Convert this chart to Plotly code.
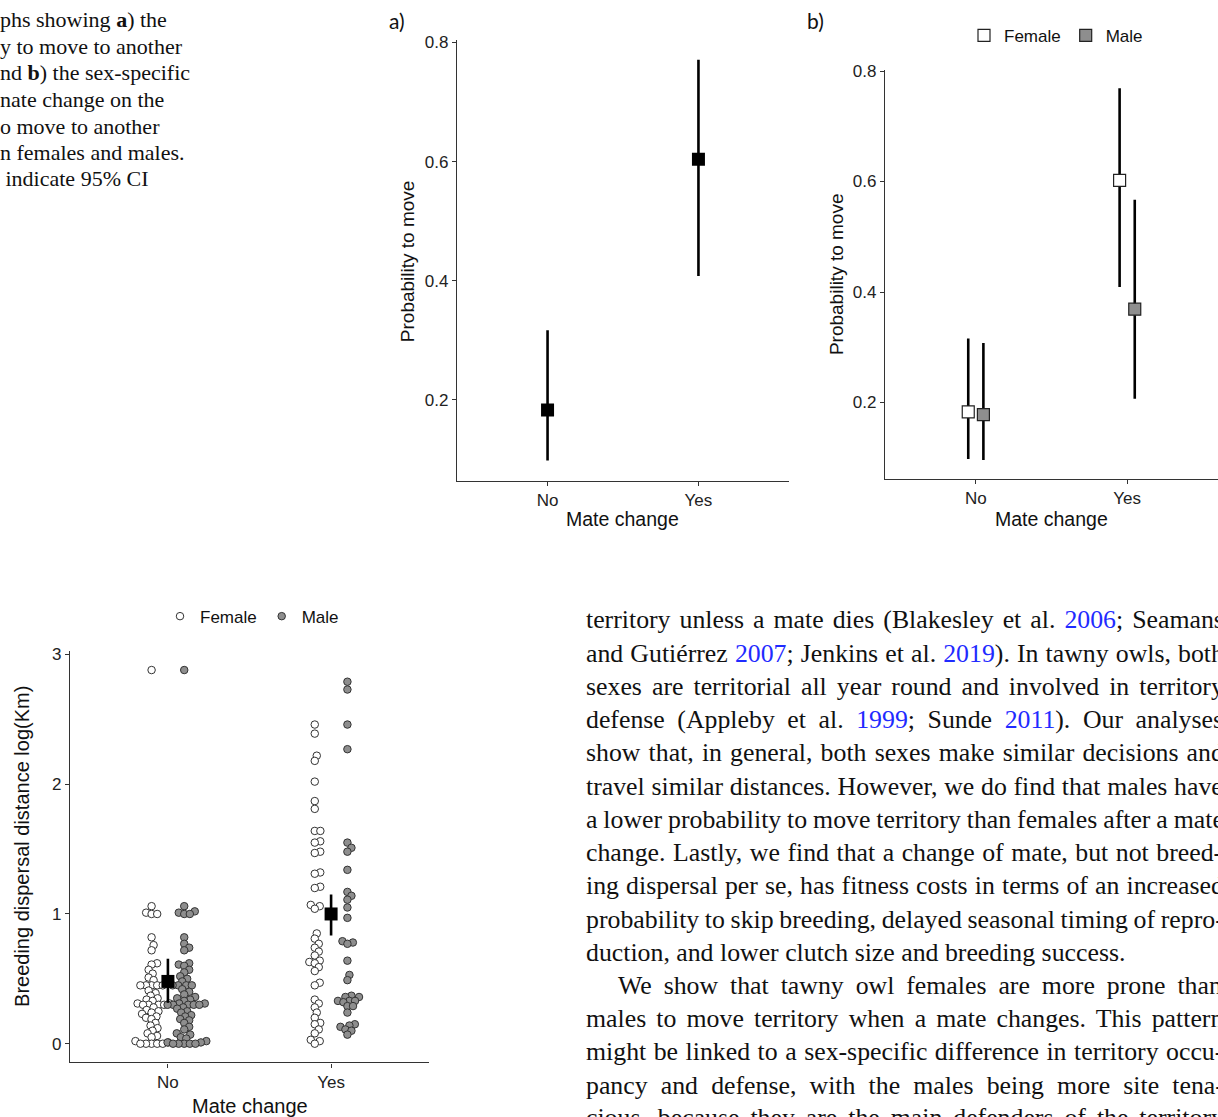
import numpy as np
import plotly.graph_objects as go

W, H = 1218, 1117

# ---------------- data ----------------
categories = ["No", "Yes"]

# panel a: probability to move (mean, 95% CI)
a_mean = [0.183, 0.604]
a_lo = [0.098, 0.408]
a_hi = [0.317, 0.771]

# panel b: sex-specific probability to move
b_fem_mean = [0.183, 0.602]
b_fem_lo = [0.098, 0.409]
b_fem_hi = [0.316, 0.769]
b_male_mean = [0.178, 0.369]
b_male_lo = [0.096, 0.207]
b_male_hi = [0.308, 0.567]

# panel c: breeding dispersal distance log(Km)
c_mean = [0.48, 1.00]
c_lo = [0.315, 0.834]
c_hi = [0.655, 1.15]

fem_no = [2.88,
          1.06, 1.01, 1.00, 1.00,
          0.82, 0.76, 0.72,
          0.62, 0.61, 0.57, 0.54, 0.51, 0.49,
          0.45, 0.45, 0.45, 0.45, 0.45,
          0.41, 0.39, 0.37, 0.35, 0.34, 0.33,
          0.31, 0.31, 0.30, 0.30, 0.30, 0.30,
          0.28, 0.26, 0.25, 0.24, 0.23, 0.21, 0.20, 0.19,
          0.16, 0.14, 0.12, 0.10, 0.08, 0.06, 0.05,
          0.02, 0.01, 0.00, 0.00, 0.00, 0.00, 0.00]
male_no = [2.88,
           1.06, 1.02, 1.01, 1.00, 1.00,
           0.82, 0.77, 0.74, 0.72,
           0.62, 0.61, 0.60, 0.57, 0.55, 0.52, 0.50, 0.48,
           0.45, 0.45, 0.45, 0.45,
           0.42, 0.40, 0.38, 0.36, 0.35, 0.34, 0.33,
           0.31, 0.31, 0.30, 0.30, 0.30, 0.30, 0.30,
           0.28, 0.27, 0.25, 0.24, 0.22, 0.21, 0.19, 0.18,
           0.16, 0.13, 0.11, 0.08, 0.07, 0.05, 0.04,
           0.02, 0.01, 0.01, 0.00, 0.00, 0.00, 0.00, 0.00]
fem_yes = [2.46, 2.39, 2.22, 2.18, 2.02, 1.87, 1.81, 1.64, 1.64, 1.56, 1.55,
           1.48, 1.47, 1.32, 1.31, 1.21, 1.20, 1.07, 1.06, 1.04, 0.85, 0.81,
           0.77, 0.74, 0.71, 0.68, 0.64, 0.63, 0.62, 0.59, 0.56, 0.47, 0.45,
           0.34, 0.31, 0.28, 0.24, 0.20, 0.16, 0.15, 0.11, 0.08, 0.03, 0.02, 0.00]
male_yes = [2.79, 2.73, 2.46, 2.27, 1.55, 1.51, 1.48, 1.34, 1.17, 1.14, 1.11,
            1.05, 0.97, 0.79, 0.78, 0.77, 0.64, 0.53, 0.49, 0.37, 0.36, 0.36,
            0.33, 0.33, 0.33, 0.32, 0.29, 0.29, 0.24, 0.15, 0.14, 0.13, 0.11,
            0.10, 0.07]

caption_lines = ["phs showing <b>a</b>) the", "y to move to another",
                 "nd <b>b</b>) the sex-specific", "nate change on the",
                 "o move to another", "n females and males.", " indicate 95% CI"]

# body text lines as segments (text, is_citation_link)
body_lines = [
    [("territory unless a mate dies (Blakesley et al. ", 0), ("2006", 1), ("; Seamans", 0)],
    [("and Gutiérrez ", 0), ("2007", 1), ("; Jenkins et al. ", 0), ("2019", 1), ("). In tawny owls, both", 0)],
    [("sexes are territorial all year round and involved in territory", 0)],
    [("defense (Appleby et al. ", 0), ("1999", 1), ("; Sunde ", 0), ("2011", 1), ("). Our analyses", 0)],
    [("show that, in general, both sexes make similar decisions and", 0)],
    [("travel similar distances. However, we do find that males have", 0)],
    [("a lower probability to move territory than females after a mate", 0)],
    [("change. Lastly, we find that a change of mate, but not breed-", 0)],
    [("ing dispersal per se, has fitness costs in terms of an increased", 0)],
    [("probability to skip breeding, delayed seasonal timing of repro-", 0)],
    [("duction, and lower clutch size and breeding success.", 0)],
    [("We show that tawny owl females are more prone than", 0)],
    [("males to move territory when a mate changes. This pattern", 0)],
    [("might be linked to a sex-specific difference in territory occu-", 0)],
    [("pancy and defense, with the males being more site tena-", 0)],
    [("cious, because they are the main defenders of the territory", 0)],
]
justified = [True] * 10 + [False] + [True] * 5

# Times / Liberation Serif advance widths (per 1000 em)
_TW = dict(zip(" !\"#$%&'()*+,-./:;<=>?@", [250, 333, 408, 500, 500, 833, 778, 333, 333, 333,
                                             500, 564, 250, 333, 250, 278, 278, 278, 564, 564,
                                             564, 444, 921]))
_TW.update({d: 500 for d in "0123456789"})
_TW.update(dict(zip("ABCDEFGHIJKLMNOPQRSTUVWXYZ",
                    [722, 667, 667, 722, 611, 556, 722, 722, 333, 389, 722, 611, 889, 722,
                     722, 556, 722, 667, 556, 611, 722, 722, 944, 722, 722, 611])))
_TW.update(dict(zip("abcdefghijklmnopqrstuvwxyz",
                    [444, 500, 444, 500, 444, 333, 500, 500, 278, 278, 500, 278, 778, 500,
                     500, 500, 500, 333, 389, 278, 500, 500, 722, 500, 500, 444])))
_TW["é"] = 444


def text_width(s, size):
    return sum(_TW.get(c, 500) for c in s) * size / 1000.0


# ---------------- helpers ----------------
def px(x):
    return x / W


def py(y):
    return 1 - y / H


def padded(lo, hi, f=0.05):
    r = hi - lo
    return [lo - f * r, hi + f * r]


def swarm(vals, d, ppu_y, ppu_x):
    vals = np.asarray(vals, float)
    order = np.argsort(vals, kind="stable")
    placed = []
    off = np.zeros(len(vals))
    for i in order:
        y = vals[i] * ppu_y
        cands = [0.0]
        for yy, xx in placed:
            dy = abs(y - yy)
            if dy < d:
                dx = np.sqrt(d * d - dy * dy)
                cands += [xx + dx, xx - dx]
        cands.sort(key=abs)
        chosen = cands[-1]
        for c in cands:
            if all((c - xx) ** 2 + (y - yy) ** 2 >= d * d - 1e-6 for yy, xx in placed):
                chosen = c
                break
        placed.append((y, chosen))
        off[i] = chosen / ppu_x
    return off


xpos = np.array([1.0, 2.0])
AX = "#333333"
TICKC = "#222222"
SANS = "Liberation Sans"
SERIF = "Liberation Serif"

fig = go.Figure()

# panel a
fig.add_trace(go.Scatter(
    x=xpos, y=a_mean, mode="markers", xaxis="x", yaxis="y", showlegend=False,
    marker=dict(symbol="square", size=13, color="black"),
    error_y=dict(type="data", symmetric=False,
                 array=np.array(a_hi) - np.array(a_mean),
                 arrayminus=np.array(a_mean) - np.array(a_lo),
                 width=0, thickness=2.6, color="black")))

# panel b
for name, mean, lo, hi, fill, dx in [
        ("Female", b_fem_mean, b_fem_lo, b_fem_hi, "white", -0.05),
        ("Male", b_male_mean, b_male_lo, b_male_hi, "#8e8e8e", 0.05)]:
    fig.add_trace(go.Scatter(
        x=xpos + dx, y=mean, mode="markers", name=name, xaxis="x2", yaxis="y2",
        legend="legend",
        marker=dict(symbol="square", size=12, color=fill, line=dict(color="#222", width=1.2)),
        error_y=dict(type="data", symmetric=False,
                     array=np.array(hi) - np.array(mean),
                     arrayminus=np.array(mean) - np.array(lo),
                     width=0, thickness=2.6, color="black")))

# panel c
c_range = padded(0.0, max(max(fem_no), max(male_no), max(fem_yes), max(male_yes)))
c_top, c_bot = 648, 1062
c_ppu_y = (c_bot - c_top) / (c_range[1] - c_range[0])
c_ppu_x = (429 - 70) / 2.2
D = 5.6
for name, groups, fill in [("Female", [fem_no, fem_yes], "white"),
                           ("Male", [male_no, male_yes], "#8e8e8e")]:
    xs, ys = [], []
    dodge = -0.1 if name == "Female" else 0.1
    for k, g in enumerate(groups):
        off = swarm(g, D, c_ppu_y, c_ppu_x)
        xs += list(xpos[k] + dodge + off)
        ys += list(g)
    fig.add_trace(go.Scatter(
        x=xs, y=ys, mode="markers", name=name, xaxis="x3", yaxis="y3",
        legend="legend2",
        marker=dict(symbol="circle", size=7.5, color=fill, line=dict(color="#333", width=1))))

fig.add_trace(go.Scatter(
    x=xpos, y=c_mean, mode="markers", xaxis="x3", yaxis="y3", showlegend=False,
    marker=dict(symbol="square", size=13, color="black"),
    error_y=dict(type="data", symmetric=False,
                 array=np.array(c_hi) - np.array(c_mean),
                 arrayminus=np.array(c_mean) - np.array(c_lo),
                 width=0, thickness=2.6, color="black")))

axis_common = dict(showline=True, linecolor=AX, linewidth=1.4, ticks="outside",
                   ticklen=4, tickwidth=1.3, tickcolor=AX, showgrid=False,
                   zeroline=False, fixedrange=True,
                   tickfont=dict(family=SANS, size=17, color=TICKC))


def xax(dom, anchor):
    return dict(axis_common, domain=dom, anchor=anchor, range=[0.4, 2.6],
                tickvals=list(xpos), ticktext=categories)


def yax(dom, anchor, rng, tv, fmt):
    return dict(axis_common, domain=dom, anchor=anchor, range=rng,
                tickvals=tv, ticktext=[fmt % v for v in tv])


a_range = padded(min(a_lo), max(a_hi))
b_range = padded(min(b_fem_lo + b_male_lo), max(b_fem_hi + b_male_hi))

annotations = []


def note(text, x, y, size, family=SANS, angle=0, xanchor="center", color="#111"):
    annotations.append(dict(text=text, x=px(x), y=py(y), xref="paper", yref="paper",
                            showarrow=False, xanchor=xanchor, yanchor="middle",
                            textangle=angle,
                            font=dict(family=family, size=size, color=color)))


note("a)", 397, 13, 21, family="Lato")
note("b)", 815, 13, 21, family="Lato")
note("Probability to move", 407, 255, 19, angle=-90)
note("Mate change", 622, 515, 19.5)
note("Probability to move", 836, 268, 19, angle=-90)
note("Mate change", 1051, 515, 19.5)
note("Breeding dispersal distance log(Km)", 22, 845, 20, angle=-90)
note("Mate change", 250, 1106, 20)

cap_y = [12, 39, 65, 92, 119, 146, 172]
for t, yy in zip(caption_lines, cap_y):
    note(t, -2, yy, 22, family=SERIF, xanchor="left")

BODY_SIZE = 25.8
RIGHT = 1222
body_y = [616, 650, 683, 717, 750, 784, 817, 851, 884, 918, 951, 985, 1018, 1051, 1085, 1118]
for i, (segs, yy) in enumerate(zip(body_lines, body_y)):
    x0 = 616 if i == 11 else 584
    plain = "".join(s for s, _ in segs)
    ws = 0.0
    if justified[i]:
        nsp = plain.count(" ")
        ws = (RIGHT - x0 - text_width(plain, BODY_SIZE)) / max(nsp, 1)
    parts = []
    for s, link in segs:
        style = "word-spacing:%.2fpx" % ws
        if link:
            style += ";color:#1f2bff"
        parts.append("<span style='%s'>%s</span>" % (style, s))
    note("".join(parts), x0, yy, BODY_SIZE, family=SERIF, xanchor="left", color="#111")

fig.update_layout(
    width=W, height=H, margin=dict(l=0, r=0, t=0, b=0),
    paper_bgcolor="white", plot_bgcolor="white",
    xaxis=xax([px(457), px(789)], "y"),
    yaxis=yax([py(476), py(32)], "x", a_range, [0.2, 0.4, 0.6, 0.8], "%.1f"),
    xaxis2=xax([px(885), 1.0], "y2"),
    yaxis2=yax([py(474), py(62)], "x2", b_range, [0.2, 0.4, 0.6, 0.8], "%.1f"),
    xaxis3=xax([px(70), px(429)], "y3"),
    yaxis3=yax([py(c_bot), py(c_top)], "x3", c_range, [0, 1, 2, 3], "%d"),
    legend=dict(orientation="h", x=px(964), y=py(28), xanchor="left", yanchor="middle",
                font=dict(family=SANS, size=17, color="#111"), bgcolor="rgba(0,0,0,0)",
                itemclick=False, itemdoubleclick=False),
    legend2=dict(orientation="h", x=px(160), y=py(613), xanchor="left", yanchor="middle",
                 font=dict(family=SANS, size=17, color="#111"), bgcolor="rgba(0,0,0,0)",
                 itemclick=False, itemdoubleclick=False),
    annotations=annotations,
    showlegend=True,
    hovermode=False,
)

fig.write_html("out.html", config={"displayModeBar": False},
               post_script="document.body.style.margin='0';")
